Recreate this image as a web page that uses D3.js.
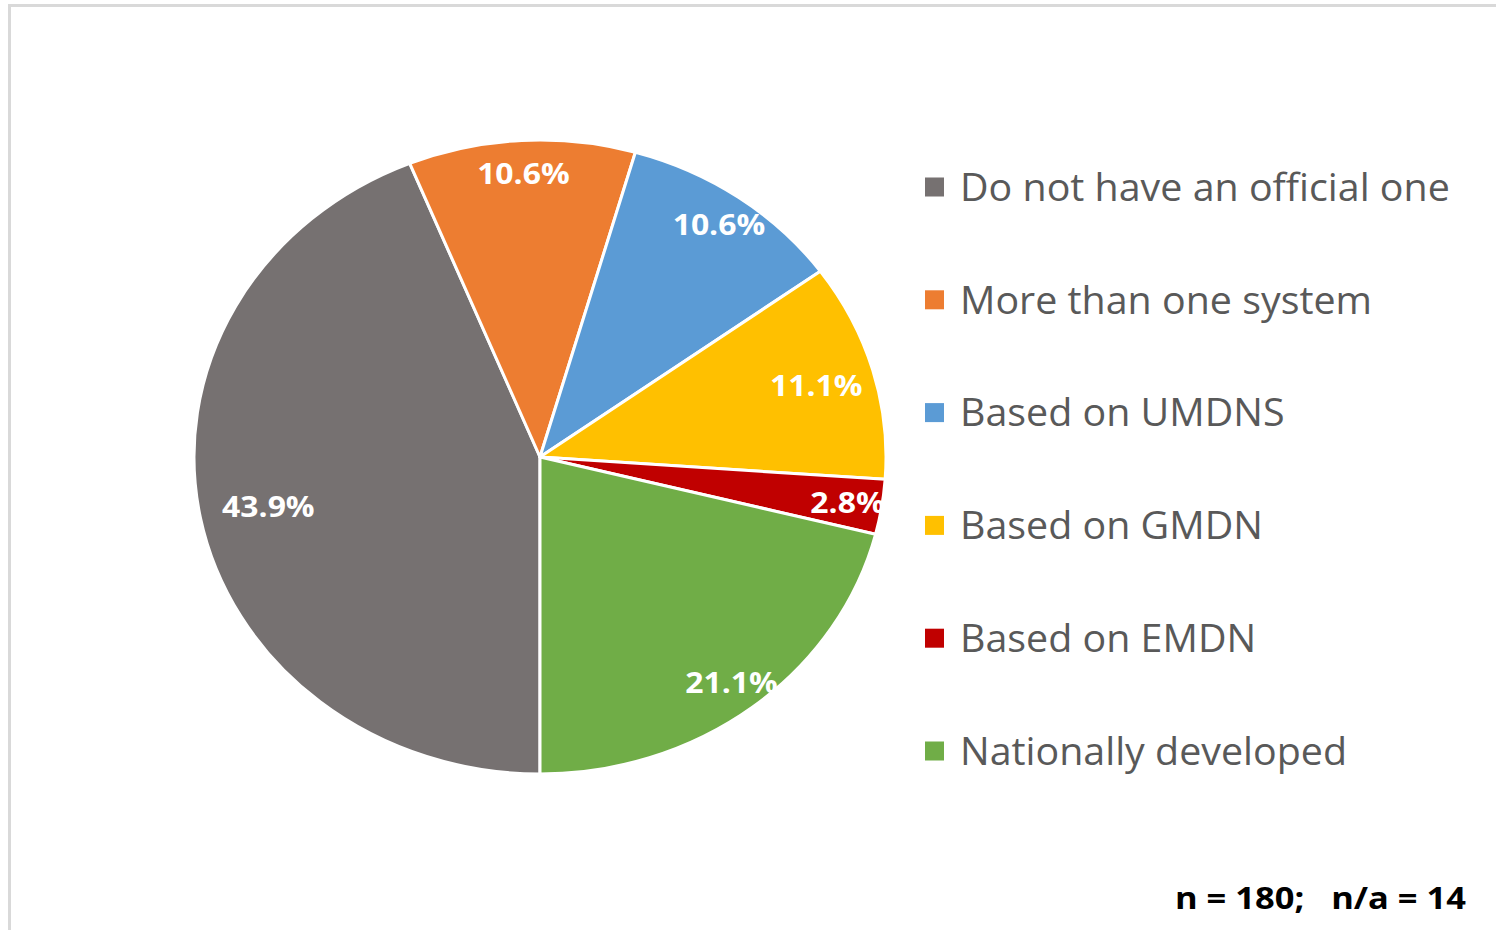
<!DOCTYPE html>
<html><head><meta charset="utf-8">
<script src="https://cdn.jsdelivr.net/npm/d3@7"></script>
<style>html,body{margin:0;padding:0;background:#fff;}svg{display:block;}</style>
</head><body>
<svg id="c" width="1496" height="930"></svg>
<script>
const categories = ["Do not have an official one","More than one system","Based on UMDNS","Based on GMDN","Based on EMDN","Nationally developed"];
const values = [43.9, 10.6, 10.6, 11.1, 2.8, 21.1];
const labels = ["43.9%","10.6%","10.6%","11.1%","2.8%","21.1%"];
const colors = ["#767171","#ED7D31","#5B9BD5","#FFC000","#C00000","#70AD47"];
const footnote = "n = 180;   n/a = 14";
// layout (label radial fraction per slice)
const labelFrac = [0.80, 0.90, 0.90, 0.83, 0.90, 0.90];

const svg = d3.select("#c");
// frame
svg.append("path").attr("d","M9.5,940 V5.5 H1510").attr("fill","none").attr("stroke","#d9d9d9").attr("stroke-width",3);

const cx = 540, cy = 457, ry = 317, rx = 346;
const sx = rx/ry;
const pie = d3.pie().sort(null).value(d=>d).startAngle(Math.PI).endAngle(3*Math.PI);
const arcs = pie(values);
const arc = d3.arc().innerRadius(0).outerRadius(ry);
const g = svg.append("g").attr("transform",`translate(${cx},${cy}) scale(${sx},1)`);
g.selectAll("path").data(arcs).join("path")
  .attr("d",arc).attr("fill",(d,i)=>colors[i])
  .attr("stroke","#fff").attr("stroke-width",3).attr("stroke-linejoin","round")
  .attr("vector-effect","non-scaling-stroke");

const lg = svg.append("g");
arcs.forEach((a,i)=>{
  const m = (a.startAngle+a.endAngle)/2;
  const f = labelFrac[i];
  const x = cx + rx*f*Math.sin(m), y = cy - ry*f*Math.cos(m);
  lg.append("text").attr("x",0).attr("y",0)
    .attr("transform",`translate(${x},${y}) scale(1.1,1)`)
    .attr("text-anchor","middle").attr("dominant-baseline","central")
    .attr("font-family","Open Sans").attr("font-weight",700).attr("font-size",29)
    .attr("fill","#fff").text(labels[i]);
});

// legend
const ly = d3.scalePoint().domain(categories).range([187,751]);
const leg = svg.append("g");
categories.forEach((c,i)=>{
  leg.append("rect").attr("x",925).attr("y",ly(c)-9.5).attr("width",19).attr("height",19).attr("fill",colors[i]);
  leg.append("text").attr("class","lt").attr("x",0).attr("y",0)
    .attr("data-y",ly(c)-1)
    .attr("font-family","Open Sans").attr("font-size",38).attr("fill","#595959")
    .attr("dominant-baseline","central").text(c);
});
const first = leg.select("text.lt").node().getComputedTextLength();
const k = 490/first;
leg.selectAll("text.lt").attr("transform",function(){return `translate(960,${this.getAttribute("data-y")}) scale(${k},1)`;});

const ft = svg.append("text").attr("font-family","Open Sans").attr("font-weight",700).attr("font-size",31)
  .attr("fill","#000").attr("dominant-baseline","central").attr("xml:space","preserve")
  .style("white-space","pre").text(footnote);
const fl = ft.node().getComputedTextLength();
ft.attr("transform",`translate(1175,897) scale(${291/fl},1)`);
</script>
</body></html>
